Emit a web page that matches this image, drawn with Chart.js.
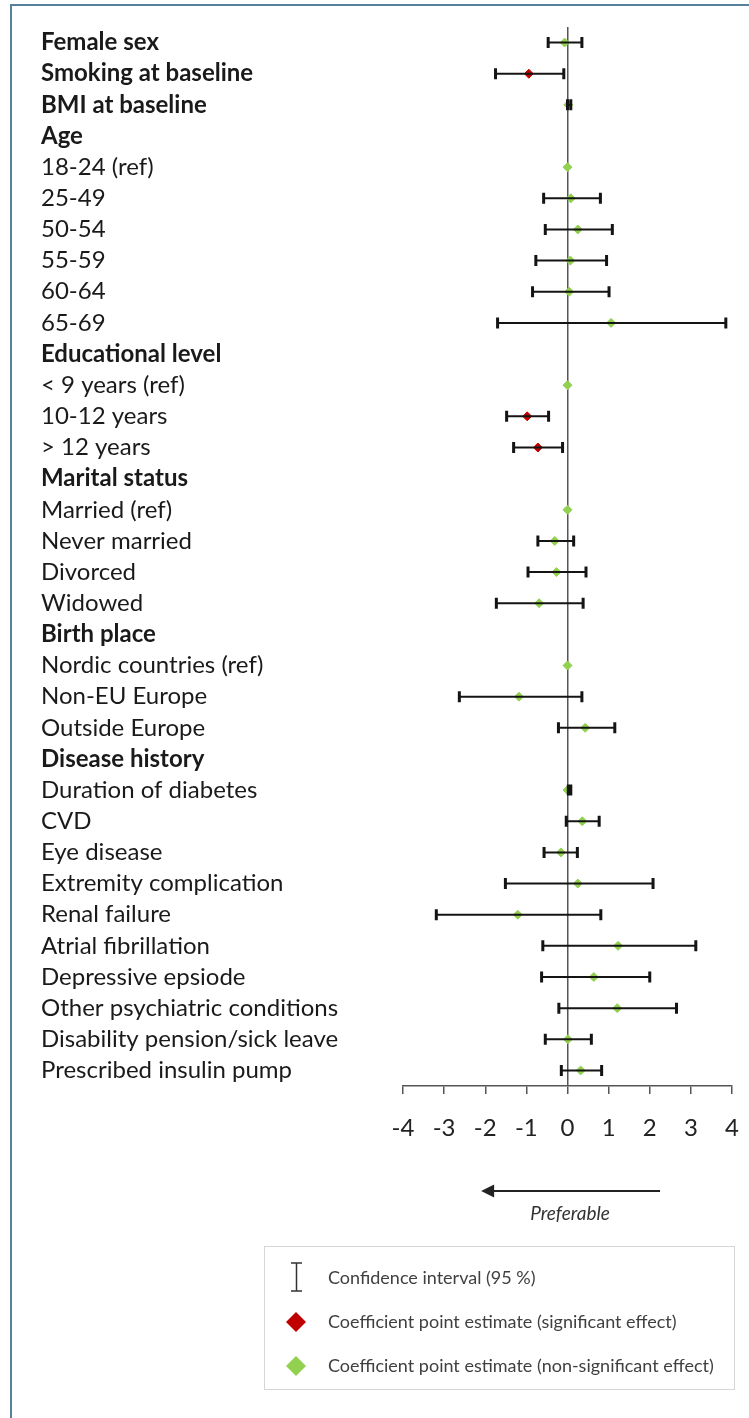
<!DOCTYPE html>
<html>
<head>
<meta charset="utf-8">
<script src="https://cdn.jsdelivr.net/npm/chart.js@4.4.1/dist/chart.umd.min.js"></script>
<style>
  body { margin: 0; background: #fff; }
  #wrap { position: relative; width: 749px; height: 1418px; overflow: hidden; }
  #frame { position: absolute; left: 10px; top: 4px; width: 800px; height: 1500px;
           border-top: 2px solid #56819a; border-left: 2px solid #56819a; }
  canvas { position: absolute; left: 0; top: 0; }
</style>
</head>
<body>
<div id="wrap">
  <div id="frame"></div>
  <canvas id="forestChart"></canvas>
</div>
<script>
// Rows of the forest plot, top to bottom
const rowLabels = ['Female sex', 'Smoking at baseline', 'BMI at baseline', 'Age', '18-24 (ref)', '25-49', '50-54',
    '55-59', '60-64', '65-69', 'Educational level', '< 9 years (ref)', '10-12 years', '> 12 years', 'Marital status',
    'Married (ref)', 'Never married', 'Divorced', 'Widowed', 'Birth place', 'Nordic countries (ref)', 'Non-EU Europe',
    'Outside Europe', 'Disease history', 'Duration of diabetes', 'CVD', 'Eye disease', 'Extremity complication',
    'Renal failure', 'Atrial fibrillation', 'Depressive epsiode', 'Other psychiatric conditions',
    'Disability pension/sick leave', 'Prescribed insulin pump'];

const headerLabels = ['Female sex', 'Smoking at baseline', 'BMI at baseline', 'Age', 'Educational level',
    'Marital status', 'Birth place', 'Disease history'];

// Coefficient point estimates and 95% confidence limits (null = no mark)
const estimates = [-0.07, -0.94, 0.02, null, 0, 0.08, 0.25, 0.07, 0.04, 1.06, null, 0, -0.98, -0.72, null, 0,
    -0.31, -0.27, -0.69, null, 0, -1.18, 0.43, null, 0.0, 0.36, -0.16, 0.25, -1.21, 1.23, 0.64, 1.21, 0.01, 0.32];
const lowerCI = [-0.47, -1.75, 0.0, null, null, -0.58, -0.54, -0.77, -0.85, -1.70, null, null, -1.48, -1.31, null,
    null, -0.72, -0.96, -1.73, null, null, -2.63, -0.22, null, 0.02, -0.03, -0.57, -1.51, -3.19, -0.60, -0.63,
    -0.21, -0.54, -0.15];
const upperCI = [0.35, -0.09, 0.08, null, null, 0.80, 1.09, 0.95, 1.01, 3.85, null, null, -0.46, -0.12, null,
    null, 0.15, 0.45, 0.38, null, null, 0.35, 1.15, null, 0.08, 0.77, 0.24, 2.08, 0.81, 3.12, 2.00, 2.65, 0.58, 0.83];
const significantRows = ['Smoking at baseline', '10-12 years', '> 12 years'];

const xTicks = [-4, -3, -2, -1, 0, 1, 2, 3, 4];

const RED = '#c00000';
const GREEN = '#92d050';

function pointsFor(sig) {
    const pts = [];
    estimates.forEach((v, i) => {
        if (v === null) return;
        // y given as the row label so the category scale finds the right row
        if (significantRows.includes(rowLabels[i]) === sig) pts.push({ x: v, y: rowLabels[i] });
    });
    return pts;
}

// Horizontal CI bars with end caps, drawn on top of the diamonds
const errorBars = {
    id: 'errorBars',
    afterDatasetsDraw(chart) {
        const { ctx, scales: { x, y } } = chart;
        ctx.save();
        ctx.strokeStyle = '#141414';
        rowLabels.forEach((lab, i) => {
            if (lowerCI[i] === null) return;
            const py = y.getPixelForValue(i);
            const x1 = x.getPixelForValue(lowerCI[i]);
            const x2 = x.getPixelForValue(upperCI[i]);
            ctx.lineWidth = 2;
            ctx.beginPath();
            ctx.moveTo(x1, py);
            ctx.lineTo(x2, py);
            ctx.stroke();
            ctx.lineWidth = 3;
            ctx.beginPath();
            ctx.moveTo(x1, py - 5.5); ctx.lineTo(x1, py + 5.5);
            ctx.moveTo(x2, py - 5.5); ctx.lineTo(x2, py + 5.5);
            ctx.stroke();
        });
        ctx.restore();
    }
};

// Arrow, "Preferable" caption and the boxed legend
const extras = {
    id: 'extras',
    afterDraw(chart) {
        const { ctx, scales: { x } } = chart;
        ctx.save();
        // arrow
        const ax1 = x.getPixelForValue(2.25), ax2 = x.getPixelForValue(-2.1), ay = 1191;
        ctx.strokeStyle = '#222';
        ctx.fillStyle = '#222';
        ctx.lineWidth = 2;
        ctx.beginPath();
        ctx.moveTo(ax1, ay);
        ctx.lineTo(ax2 + 10, ay);
        ctx.stroke();
        ctx.beginPath();
        ctx.moveTo(ax2, ay);
        ctx.lineTo(ax2 + 13, ay - 6.5);
        ctx.lineTo(ax2 + 13, ay + 6.5);
        ctx.closePath();
        ctx.fill();
        ctx.font = 'italic 19px Lato';
        ctx.textAlign = 'center';
        ctx.textBaseline = 'middle';
        ctx.fillStyle = '#333';
        ctx.fillText('Preferable', 570, 1214);

        // legend box
        ctx.strokeStyle = '#d6d6d6';
        ctx.lineWidth = 1;
        ctx.strokeRect(264.5, 1246.5, 470, 143);
        // CI symbol
        ctx.strokeStyle = '#333';
        ctx.lineWidth = 1.5;
        ctx.beginPath();
        ctx.moveTo(296.5, 1263); ctx.lineTo(296.5, 1291);
        ctx.moveTo(291, 1263); ctx.lineTo(302, 1263);
        ctx.moveTo(291, 1291); ctx.lineTo(302, 1291);
        ctx.stroke();
        // diamonds
        [[1322, RED], [1366, GREEN]].forEach(([cy, col]) => {
            ctx.fillStyle = col;
            ctx.beginPath();
            ctx.moveTo(296, cy - 10); ctx.lineTo(306, cy); ctx.lineTo(296, cy + 10); ctx.lineTo(286, cy);
            ctx.closePath();
            ctx.fill();
        });
        ctx.font = '18px Lato';
        ctx.textAlign = 'left';
        ctx.fillStyle = '#404040';
        ctx.fillText('Confidence interval (95 %)', 328, 1278);
        ctx.fillText('Coefficient point estimate (significant effect)', 328, 1322);
        ctx.fillText('Coefficient point estimate (non-significant effect)', 328, 1366);
        ctx.restore();
    }
};

const config = {
    type: 'scatter',
    data: {
        datasets: [
            {
                label: 'Significant',
                data: pointsFor(true),
                pointStyle: 'rectRot',
                pointRadius: 4.5,
                backgroundColor: RED,
                borderColor: RED,
                borderWidth: 1
            },
            {
                label: 'Non-significant',
                data: pointsFor(false),
                pointStyle: 'rectRot',
                pointRadius: 4.5,
                backgroundColor: GREEN,
                borderColor: GREEN,
                borderWidth: 1
            }
        ]
    },
    options: {
        responsive: false,
        animation: false,
        layout: { padding: { left: 41, top: 27, right: 17, bottom: 272 } },
        plugins: { legend: { display: false }, tooltip: { enabled: false } },
        scales: {
            x: {
                type: 'linear',
                min: -4,
                max: 4,
                afterBuildTicks: (scale) => { scale.ticks = xTicks.map(v => ({ value: v })); },
                afterFit: (scale) => {
                    scale.height = 60;
                    scale.paddingLeft = 0;
                    scale.paddingRight = 0;
                },
                border: { display: true, color: '#555', width: 1.5 },
                grid: {
                    color: (ctx) => (ctx.tick && ctx.tick.value === 0 ? '#555' : 'rgba(0,0,0,0)'),
                    lineWidth: 1.5,
                    tickColor: '#555',
                    tickLength: 8,
                    drawTicks: true
                },
                ticks: {
                    padding: 20,
                    color: '#222',
                    font: { family: 'Lato', size: 24 }
                }
            },
            y: {
                type: 'category',
                labels: rowLabels,
                offset: true,
                afterFit: (scale) => { scale.width = 362; },
                border: { display: false },
                grid: { display: false },
                ticks: {
                    autoSkip: false,
                    crossAlign: 'far',
                    padding: 0,
                    color: '#1a1a1a',
                    font: (ctx) => ({
                        family: 'Lato',
                        size: 24,
                        weight: headerLabels.includes(rowLabels[ctx.index]) ? 'bold' : 'normal'
                    })
                }
            }
        }
    },
    plugins: [errorBars, extras]
};

const canvas = document.getElementById('forestChart');
canvas.width = 749;
canvas.height = 1418;
const forestChart = new Chart(canvas, config);
</script>
</body>
</html>
